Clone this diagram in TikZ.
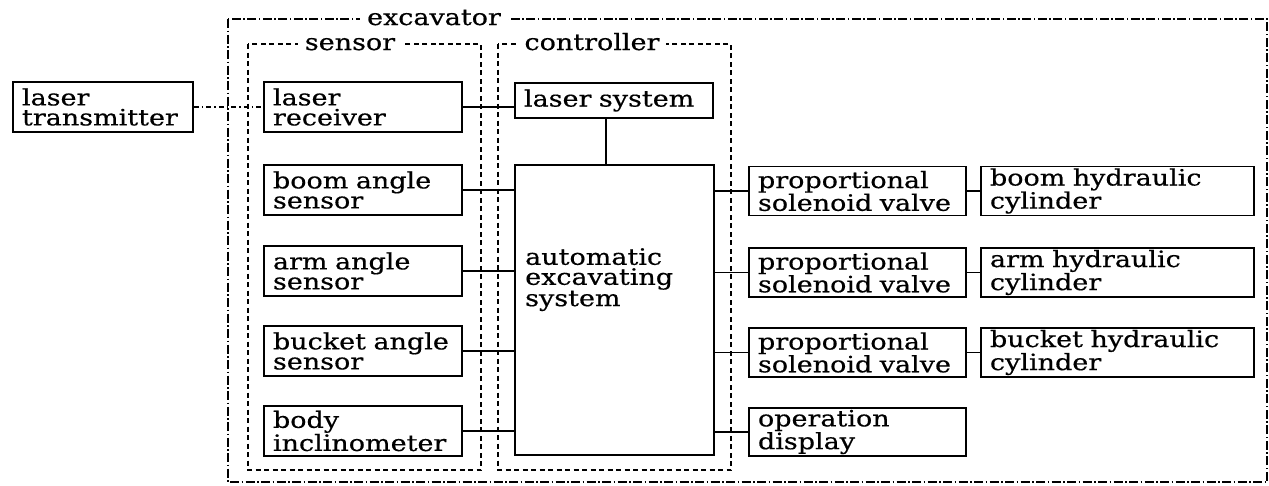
\documentclass[tikz,border=0pt]{standalone}
\usepackage{fontspec}
\setmainfont{DejaVu Serif}[FakeStretch=1.2, FakeBold=0.5]
\begin{document}
\begin{tikzpicture}[x=1pt,y=-1pt,
  txt/.style={font=\fontsize{22.5}{20}\selectfont},
  box/.style={txt, draw, line width=1.8pt, inner xsep=9pt, inner ysep=0pt, align=left, anchor=center},
  sbox/.style={box, minimum width=198pt, text width=180pt, minimum height=50pt},
  vbox/.style={box, minimum width=217pt, text width=199pt, minimum height=49pt},
  cbox/.style={box, minimum width=273pt, text width=255pt, minimum height=49pt},
  link/.style={line width=1.8pt},
  dashdotlink/.style={line width=1.5pt, dash pattern=on 5pt off 3pt on 1.5pt off 3pt},
  outer/.style={line width=1.7pt, dash pattern=on 9pt off 2.5pt on 1.5pt off 2.5pt},
  group/.style={line width=1.9pt, dash pattern=on 5pt off 3.5pt},
  grouplab/.style={txt, fill=white, inner xsep=7pt, inner ysep=1pt, anchor=base}
]
\useasboundingbox (0,0) rectangle (1269,485);

% group frames
\draw[outer] (228,19) rectangle (1267,482);
\draw[group] (248,44) rectangle (481,470);
\draw[group] (498,44) rectangle (731,470);
\node[grouplab] (exlab) at (434,25) {excavator};
\node[grouplab] (senslab) at (350,50) {sensor};
\node[grouplab] (ctrllab) at (592,50) {controller};

% boxes
\node[box, minimum width=180pt, text width=162pt, minimum height=50pt] (trans) at (103,107) {laser\\transmitter};
\node[sbox] (recv) at (363,107) {laser\\receiver};
\node[sbox] (boom) at (363,190) {boom angle\\sensor};
\node[sbox] (arm) at (363,271) {arm angle\\sensor};
\node[sbox] (bucket) at (363,351) {bucket angle\\sensor};
\node[sbox] (body) at (363,431) {body\\inclinometer};

\node[box, minimum width=198pt, text width=180pt, minimum height=35pt] (lasersys) at (614,100.5) {laser system};
\node[box, minimum width=199pt, minimum height=290pt] (auto) at (614.5,310) {};
\node[txt, align=left, inner sep=0pt, anchor=north west, font=\fontsize{22.5}{20}\selectfont] (autotext) at (525,248) {automatic\\excavating\\system};

\node[vbox] (v1) at (857.5,191) {proportional\\solenoid valve};
\node[vbox] (v2) at (857.5,272.5) {proportional\\solenoid valve};
\node[vbox] (v3) at (857.5,352.5) {proportional\\solenoid valve};
\node[vbox, minimum height=48pt] (disp) at (857.5,432) {operation\\display};

\node[cbox] (c1) at (1117.5,191) {boom hydraulic\\cylinder};
\node[cbox] (c2) at (1117.5,272.5) {arm hydraulic\\cylinder};
\node[cbox] (c3) at (1117.5,352.5) {bucket hydraulic\\cylinder};

% connectors
\draw[dashdotlink] (trans.east) -- (recv.west);
\draw[link] (recv.east) -- (recv.east -| lasersys.west);
\draw[link] ([xshift=-8pt]lasersys.south) -- ([xshift=-8pt]lasersys.south |- auto.north);
\foreach \s in {boom,arm,bucket,body}
  \draw[link] (\s.east) -- (\s.east -| auto.west);
\foreach \v in {v1,v2,v3,disp}
  \draw[link] (\v.west -| auto.east) -- (\v.west);
\draw[link] (v1) -- (c1);
\draw[link] (v2) -- (c2);
\draw[link] (v3) -- (c3);
\end{tikzpicture}
\end{document}
